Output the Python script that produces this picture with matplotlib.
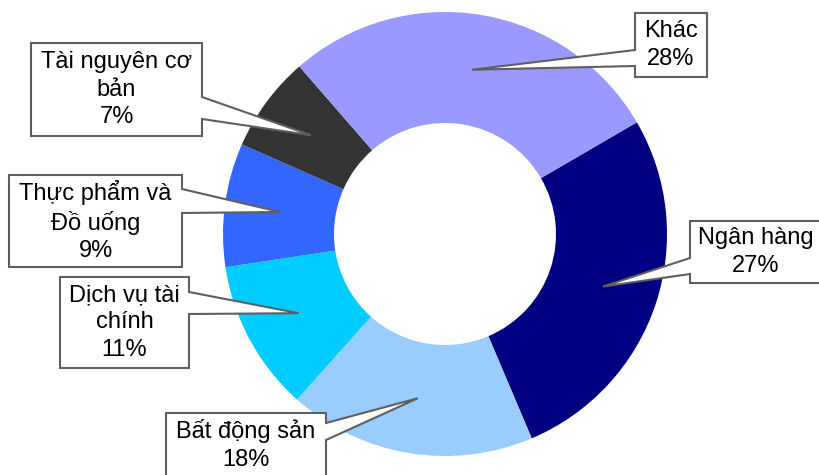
import numpy as np
import matplotlib.pyplot as plt
import matplotlib.transforms as mtransforms
from matplotlib.patches import Polygon

# Du lieu (ty trong theo nganh)
sectors = ["Ngân hàng", "Bất động sản", "Dịch vụ tài\nchính", "Thực phẩm và\nĐồ uống",
           "Tài nguyên cơ\nbản", "Khác"]
shares = [27, 18, 11, 9, 7, 28]
colors = ["#000080", "#99CCFF", "#00CCFF", "#3366FF", "#333333", "#9999FF"]

# Vi tri hop chu thich (pixel: trai, tren, phai, duoi), canh gan mui ten, doan mui ten tren canh
boxes = [(690, 221, 822, 283), (166, 413, 326, 477), (60, 277, 189, 368),
         (9, 175, 182, 267), (31, 43, 202, 136), (635, 13, 707, 77)]
sides = ["left", "right", "right", "right", "right", "left"]
bases = [(258, 274), (423, 440), (292, 314), (189, 213), (97, 119), (50, 66)]

W, H = 819, 475
fig = plt.figure(figsize=(W / 100, H / 100), dpi=100)
ax = fig.add_axes([0, 0, 1, 1])

cx, cy, r = 445, 234, 222
wedges, _ = ax.pie(shares, colors=colors, startangle=30.2, counterclock=False,
                   radius=1, wedgeprops=dict(width=0.5, edgecolor="none"))
ax.set_xlim(-cx / r, (W - cx) / r)
ax.set_ylim((cy - H) / r, cy / r)
ax.set_aspect("auto")
ax.axis("off")

# bien doi tu toa do pixel (goc tren trai) sang figure
px = mtransforms.Affine2D().scale(1 / W, -1 / H).translate(0, 1) + fig.transFigure

for w, label, share, box, side, base in zip(wedges, sectors, shares, boxes, sides, bases):
    mid = np.deg2rad((w.theta1 + w.theta2) / 2)
    tip_data = (0.75 * np.cos(mid), 0.75 * np.sin(mid))
    tip = px.inverted().transform(ax.transData.transform(tip_data))
    L, T, R, B = box
    b1, b2 = base
    if side == "right":
        pts = [(L, T), (R, T), (R, b1), tuple(tip), (R, b2), (R, B), (L, B)]
    else:
        pts = [(L, T), (R, T), (R, B), (L, B), (L, b2), tuple(tip), (L, b1)]
    poly = Polygon(pts, closed=True, facecolor="white", edgecolor="#5f5f5f",
                   linewidth=1.5, transform=px, zorder=5, joinstyle="miter")
    fig.add_artist(poly)
    fig.text((L + R) / 2 / W, 1 - (T + B) / 2 / H, f"{label}\n{share}%",
             ha="center", va="center", multialignment="center", fontsize=17,
             family=["Liberation Sans", "DejaVu Sans"], linespacing=1.3, zorder=6)

fig.savefig("out.png", dpi=100)
